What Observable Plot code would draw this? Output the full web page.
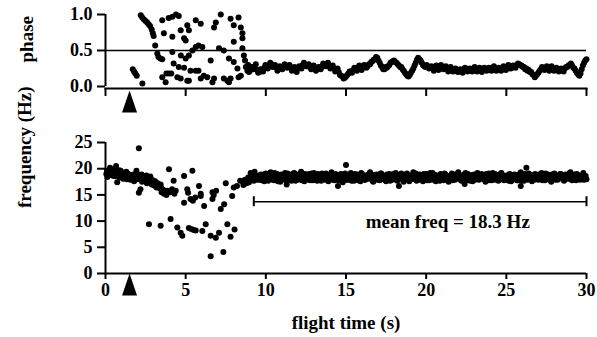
<!DOCTYPE html>
<html><head><meta charset="utf-8">
<script src="https://cdn.jsdelivr.net/npm/d3@7"></script>
<script src="https://cdn.jsdelivr.net/npm/@observablehq/plot@0.6"></script>
<style>
body{margin:0;background:#fff;}
#chart{position:relative;width:597px;height:337px;background:#fff;}
#chart svg{position:absolute;left:0;}
</style></head><body><div id="chart"></div>
<script>
// ---------- data ----------
const timeTicks = [0, 5, 10, 15, 20, 25, 30];
const phaseTicks = [0, 0.5, 1];
const freqTicks = [0, 5, 10, 15, 20, 25];
const arrowTimes = [1.5];
const phaseRef = [0.5];
const meanFreq = [18.3];
const meanSpan = [9.25, 30];

// phase: early / transitional points [time s, phase]
const phaseEarly = [
  [1.70,0.24],[1.78,0.21],[1.86,0.18],[1.95,0.15],[2.30,0.04],
  [2.20,0.99],[2.29,0.96],[2.40,0.93],[2.50,0.91],[2.60,0.89],[2.70,0.86],[2.78,0.84],[2.88,0.79],[2.95,0.74],[3.00,0.70],
  [3.54,0.92],[3.94,0.95],[4.17,0.97],[4.40,1.00],[4.57,0.98],[3.64,0.74],[4.17,0.69],[4.69,0.78],[5.10,0.85],[4.90,0.67],
  [3.10,0.57],[3.23,0.46],[3.30,0.41],[3.42,0.39],[3.54,0.38],[4.17,0.48],[4.70,0.43],[5.00,0.39],[4.25,0.32],[4.57,0.27],
  [4.90,0.26],[3.80,0.18],[3.95,0.18],[4.10,0.18],[3.54,0.13],[3.75,0.06],[4.48,0.13],[4.69,0.11],[5.10,0.08],
  [7.19,1.00],[6.88,0.89],[6.77,0.82],[5.63,0.92],[5.94,0.87],[5.20,0.78],[5.00,0.64],[7.80,0.94],[8.30,0.96],[8.00,0.85],
  [8.44,0.82],[8.54,0.74],[8.54,0.67],[8.00,0.62],[5.63,0.55],[5.80,0.57],[6.04,0.55],[5.42,0.50],[5.20,0.43],[7.08,0.53],
  [7.38,0.50],[8.54,0.53],[8.63,0.43],[6.56,0.36],[7.70,0.39],[8.00,0.34],[8.23,0.25],[8.75,0.27],[5.30,0.22],[5.63,0.22],
  [5.80,0.22],[5.20,0.08],[5.94,0.11],[6.13,0.15],[6.35,0.13],[6.77,0.11],[6.67,0.06],[7.38,0.11],[7.60,0.08],[7.80,0.11],
  [7.70,0.06],[8.30,0.13],[8.44,0.15],[8.70,0.36],[8.85,0.22],[8.90,0.30],[8.95,0.20]
];
// phase: steady flight, two interleaved sample rows every 0.15 s
const phaseSteadyStartA = 9.0, phaseSteadyStartB = 9.075, phaseSteadyStep = 0.15;
const phaseSteadyA = [
  0.22,0.27,0.28,0.23,0.20,0.22,0.26,0.27,0.30,0.31,0.28,0.26,0.24,0.26,0.27,0.29,0.28,0.26,0.25,0.23,
  0.25,0.27,0.30,0.31,0.28,0.27,0.26,0.25,0.24,0.26,0.28,0.31,0.30,0.28,0.26,0.25,0.23,0.20,0.15,0.11,
  0.14,0.18,0.21,0.23,0.25,0.26,0.25,0.27,0.29,0.28,0.31,0.35,0.38,0.40,0.33,0.27,0.24,0.26,0.30,0.34,
  0.36,0.33,0.29,0.27,0.22,0.17,0.14,0.19,0.25,0.33,0.40,0.36,0.30,0.27,0.28,0.26,0.25,0.27,0.26,0.28,
  0.27,0.25,0.24,0.26,0.24,0.22,0.23,0.21,0.22,0.24,0.23,0.22,0.24,0.25,0.23,0.24,0.22,0.24,0.25,0.23,
  0.25,0.26,0.24,0.23,0.25,0.26,0.25,0.27,0.28,0.26,0.28,0.30,0.31,0.29,0.27,0.25,0.23,0.20,0.16,0.15,
  0.19,0.24,0.26,0.25,0.24,0.26,0.25,0.23,0.24,0.22,0.23,0.25,0.27,0.30,0.29,0.25,0.19,0.15,0.24,0.33,0.38
];
const phaseSteadyB = [
  0.26,0.24,0.31,0.19,0.24,0.21,0.30,0.25,0.33,0.27,0.30,0.22,0.28,0.24,0.31,0.26,0.30,0.22,0.27,0.20,
  0.28,0.25,0.33,0.28,0.31,0.24,0.29,0.22,0.27,0.24,0.32,0.28,0.33,0.25,0.29,0.21,0.25,0.16,0.14,0.12,
  0.16,0.21,0.19,0.26,0.22,0.29,0.23,0.30,0.26,0.31,0.34,0.37,0.41,0.36,0.29,0.24,0.27,0.28,0.33,0.35,
  0.34,0.31,0.27,0.24,0.19,0.15,0.16,0.22,0.29,0.37,0.38,0.33,0.28,0.30,0.25,0.28,0.22,0.29,0.23,0.30,
  0.24,0.28,0.21,0.27,0.21,0.25,0.20,0.24,0.19,0.26,0.21,0.25,0.21,0.27,0.21,0.26,0.20,0.26,0.22,0.26,
  0.22,0.28,0.22,0.26,0.22,0.28,0.23,0.30,0.25,0.29,0.26,0.32,0.29,0.27,0.24,0.22,0.20,0.17,0.13,0.17,
  0.22,0.27,0.23,0.28,0.22,0.28,0.22,0.26,0.21,0.25,0.21,0.27,0.29,0.32,0.26,0.22,0.17,0.18,0.29,0.36
];

// frequency: early / transitional points [time s, Hz]
const freqEarly = [
  [0.05,19.0],[0.12,18.4],[0.20,19.6],[0.28,20.2],[0.35,18.8],[0.42,19.3],[0.50,18.6],[0.58,19.9],[0.66,20.5],[0.73,17.4],
  [0.80,19.1],[0.88,18.3],[0.95,19.6],[1.03,18.8],[1.10,18.1],[1.18,19.2],[1.25,18.6],[1.33,18.0],[1.40,19.0],[1.48,18.4],
  [1.55,17.9],[1.63,18.8],[1.70,18.2],[1.78,17.6],[1.85,18.6],[1.93,19.6],[2.00,18.0],[2.08,23.9],[2.08,15.4],[2.18,16.1],
  [2.20,18.4],[2.28,17.5],[2.35,18.6],[2.43,17.8],[2.50,18.3],[2.58,17.2],[2.65,18.1],[2.72,17.6],[2.80,18.5],[2.88,17.0],
  [2.95,17.8],[3.03,16.8],[3.10,17.6],[3.18,16.4],[3.25,17.2],[3.33,16.6],[3.40,16.2],[3.44,17.0],[3.50,15.5],[3.58,16.0],
  [3.65,15.2],[3.72,15.8],[3.80,15.0],[3.85,15.8],[3.96,19.9],[4.06,15.5],[4.15,16.1],[4.25,17.7],[4.38,15.8],[4.30,15.2],
  [0.10,19.6],[0.24,18.9],[0.40,19.9],[0.54,19.2],[0.62,18.6],[0.85,19.7],[1.00,19.2],[1.15,18.6],[1.30,19.4],[1.45,18.9],
  [1.60,18.3],[1.75,18.9],[1.90,18.2],[2.05,18.8],[2.25,18.9],[2.40,18.2],[2.55,18.7],[2.70,18.2],[2.85,17.9],[3.00,17.3],
  [3.15,17.0],[3.30,16.9],[3.48,16.3],
  [4.90,18.6],[4.90,13.5],[5.10,16.1],[5.15,15.4],[5.30,14.2],[5.42,19.6],[5.45,13.9],[5.60,14.5],[5.83,16.7],[5.94,15.2],
  [5.94,14.8],[6.15,12.9],[6.67,15.5],[6.90,15.8],[6.67,14.2],[6.75,15.0],[7.19,12.3],[7.40,13.2],[7.50,17.2],[7.90,14.8],
  [8.00,16.4],[8.20,16.7],[8.40,17.7],[8.55,17.6],[8.70,17.9],[8.80,17.2],[8.90,18.3],[9.00,17.8],[9.10,18.8],[9.20,18.2],
  [9.30,19.4],[9.40,18.6],[9.45,17.9],[8.60,16.9],[8.95,17.4],[9.05,19.2],[9.25,17.7],
  [2.71,9.4],[3.44,9.1],[4.06,10.4],[4.48,8.8],[4.69,7.8],[4.79,7.2],[5.20,8.7],[5.35,8.5],[5.50,8.3],[5.63,8.2],
  [6.04,8.1],[6.25,9.4],[6.56,3.3],[6.56,7.2],[6.88,6.8],[7.08,7.8],[7.35,4.1],[7.60,9.4],[7.80,7.0],[8.05,8.4],
  [14.5,16.7],[15.0,20.7],[18.3,16.7],[25.9,16.7],[26.25,20.2],[11.3,17.0],[22.4,17.1]
];
// frequency: steady flight, two interleaved sample rows every 0.1 s
const freqSteadyStartA = 9.5, freqSteadyStartB = 9.55, freqSteadyStep = 0.1;
const freqSteadyA = [
  18.6,17.9,18.9,18.2,17.6,19.1,18.4,18.0,19.3,18.5, 17.8,18.7,19.0,18.1,17.5,18.8,18.3,19.2,17.9,18.4,
  18.9,17.7,18.2,19.1,18.6,17.9,18.4,19.4,18.0,17.6, 18.7,18.3,19.0,17.8,18.5,19.2,18.1,17.7,18.8,18.4,
  19.1,17.9,18.3,18.9,17.6,18.6,19.3,18.2,17.8,18.7, 18.0,18.5,19.0,17.4,18.4,18.8,17.9,18.2,19.2,18.6,
  17.7,18.3,18.9,18.1,17.6,19.0,18.5,17.9,18.7,18.2, 19.3,18.0,17.5,18.6,18.9,18.1,17.8,19.1,18.4,18.2,
  17.6,18.8,19.0,18.3,17.9,18.5,19.2,17.7,18.4,18.8, 18.1,17.5,18.7,19.1,18.3,17.9,18.6,19.3,18.0,17.7,
  18.5,18.9,18.2,17.6,18.8,19.0,18.1,17.8,18.6,19.2, 18.3,17.6,18.7,18.1,19.0,18.4,17.8,18.9,18.2,17.5,
  18.6,19.1,18.0,17.9,18.5,19.3,18.2,17.7,18.8,18.4, 17.8,19.0,18.3,18.6,17.6,18.9,18.1,19.2,17.9,18.5,
  18.7,18.0,17.5,18.8,19.1,18.3,17.8,18.6,19.0,18.2, 17.7,18.4,19.2,18.1,17.9,18.7,18.3,19.0,17.6,18.5,
  18.9,18.2,17.8,18.6,19.3,18.0,17.7,18.8,18.4,19.1, 18.1,17.6,18.5,19.0,18.3,17.9,18.7,19.2,18.0,17.8,
  18.6,18.9,18.2,17.5,18.8,19.1,18.4,17.9,18.6,19.0, 18.3,17.7,18.9,18.5,18.1,19.3,17.8,18.4,18.7,19.0,
  18.2,17.9,18.6,19.2,18.4,18.0
];
const freqSteadyB = [
  18.2,18.8,17.8,18.5,19.0,18.0,17.7,18.9,18.3,17.9, 19.2,18.4,17.6,18.7,18.9,18.0,18.6,17.8,19.1,18.3,
  18.0,18.8,19.2,17.7,18.3,18.9,18.1,17.8,18.6,19.0, 18.2,17.9,18.5,19.1,17.8,18.4,18.8,19.0,18.1,17.7,
  18.6,18.3,19.1,17.8,18.7,18.2,17.9,18.8,19.0,18.4, 17.8,18.9,18.2,18.7,19.1,17.9,18.5,18.0,17.7,18.8,
  19.0,18.4,17.8,18.6,19.2,18.2,17.9,18.7,18.1,19.0, 18.3,17.7,18.8,18.2,17.9,18.6,19.1,18.0,18.5,17.8,
  18.9,18.1,17.7,18.6,19.0,18.2,17.9,18.8,18.3,19.1, 17.8,18.5,18.9,18.0,17.6,18.7,18.2,18.9,19.1,18.3,
  17.9,18.4,18.7,19.0,18.1,17.8,18.6,19.2,18.3,17.9, 18.8,18.5,18.0,17.7,18.9,18.2,19.1,18.4,17.8,18.6,
  18.2,17.8,18.9,18.4,19.0,18.1,17.9,18.6,18.3,19.2, 18.5,18.0,17.7,18.8,18.4,17.9,18.7,18.0,18.6,19.0,
  18.1,18.8,19.0,18.3,17.8,18.5,19.2,18.0,17.9,18.7, 18.3,19.1,18.0,17.8,18.6,18.2,17.7,18.9,18.4,18.1,
  18.4,17.8,18.9,18.1,17.7,18.6,19.0,18.3,17.9,18.5, 18.8,18.2,17.9,18.7,18.0,18.9,18.3,17.8,18.6,19.1,
  18.0,18.4,17.8,18.9,18.3,17.9,18.7,18.2,19.0,18.5, 17.9,18.6,18.1,18.8,19.2,18.0,18.5,18.9,17.8,18.3,
  18.7,18.4,18.0,17.9,18.6
];

// ---------- build tables ----------
const rows = (vals, start, step) => vals.map((v, i) => ({t: start + i * step, v})).filter(d => d.t <= 30.01);
const phaseData = phaseEarly.map(([t, v]) => ({t, v}))
  .concat(rows(phaseSteadyA, phaseSteadyStartA, phaseSteadyStep))
  .concat(rows(phaseSteadyB, phaseSteadyStartB, phaseSteadyStep));
const freqData = freqEarly.map(([t, v]) => ({t, v}))
  .concat(rows(freqSteadyA, freqSteadyStartA, freqSteadyStep))
  .concat(rows(freqSteadyB, freqSteadyStartB, freqSteadyStep));

const tallTriangle = {
  draw(ctx) { const w = 7.5, h = 22; ctx.moveTo(0, -h / 2); ctx.lineTo(w, h / 2); ctx.lineTo(-w, h / 2); ctx.closePath(); }
};
const fontStyle = "font-family:'Liberation Serif','Times New Roman',serif;font-size:18px;font-weight:bold;background:transparent;overflow:visible;color:black;";
const W = 597;

const topPlot = Plot.plot({
  width: W, height: 120,
  marginLeft: 105, marginRight: 11, marginTop: 14, marginBottom: 32,
  style: fontStyle,
  x: {domain: [0, 30]},
  y: {domain: [-2 / 72, 1]},
  marks: [
    Plot.ruleY(phaseRef, {x1: 0, x2: 30, strokeWidth: 1.6}),
    Plot.ruleX([0], {y1: 0, y2: 1, strokeWidth: 2}),
    Plot.axisY({ticks: phaseTicks, tickSize: 8, tickPadding: 5, tickFormat: d3.format(".1f"), label: null, strokeWidth: 2}),
    Plot.frame({anchor: "bottom", strokeWidth: 2}),
    Plot.axisX({ticks: timeTicks, tickSize: 8, tickFormat: () => "", label: null, strokeWidth: 2}),
    Plot.dot(phaseData, {x: "t", y: "v", r: 3, fill: "black", stroke: "none"}),
    Plot.dot(arrowTimes, {x: d => d, frameAnchor: "bottom", dy: 13, symbol: tallTriangle, fill: "black", stroke: "none"}),
    Plot.text(["phase"], {frameAnchor: "left", rotate: -90, dx: -79, dy: 11, fontSize: 19})
  ]
});

const bottomPlot = Plot.plot({
  width: W, height: 217,
  marginLeft: 105, marginRight: 11, marginTop: 22, marginBottom: 64,
  style: fontStyle,
  x: {domain: [0, 30]},
  y: {domain: [0, 25]},
  marks: [
    Plot.ruleX([0], {y1: 0, y2: 25, strokeWidth: 2}),
    Plot.ruleY([0], {x1: 0, x2: 30, strokeWidth: 2}),
    Plot.axisY({ticks: freqTicks, tickSize: 8, tickPadding: 5, label: null, strokeWidth: 2}),
    Plot.axisX({ticks: timeTicks, tickSize: 6, tickPadding: 4, label: null, strokeWidth: 2}),
    Plot.dot(freqData, {x: "t", y: "v", r: 3, fill: "black", stroke: "none"}),
    Plot.ruleY([13.7], {x1: meanSpan[0], x2: meanSpan[1], strokeWidth: 1.6}),
    Plot.ruleX(meanSpan, {y1: 12.75, y2: 14.65, strokeWidth: 2}),
    Plot.text(meanFreq, {x: 21.35, y: 9.8, text: d => `mean freq = ${d} Hz`, fontSize: 19}),
    Plot.dot(arrowTimes, {x: d => d, frameAnchor: "bottom", dy: 11, symbol: tallTriangle, fill: "black", stroke: "none"}),
    Plot.text(["frequency (Hz)"], {frameAnchor: "left", rotate: -90, dx: -81, fontSize: 19}),
    Plot.text(["flight time (s)"], {frameAnchor: "bottom", dy: 55, fontSize: 19})
  ]
});

topPlot.style.top = "0px";
bottomPlot.style.top = "120px";
const chartEl = document.getElementById("chart");
chartEl.appendChild(topPlot);
chartEl.appendChild(bottomPlot);
</script>
</body></html>
